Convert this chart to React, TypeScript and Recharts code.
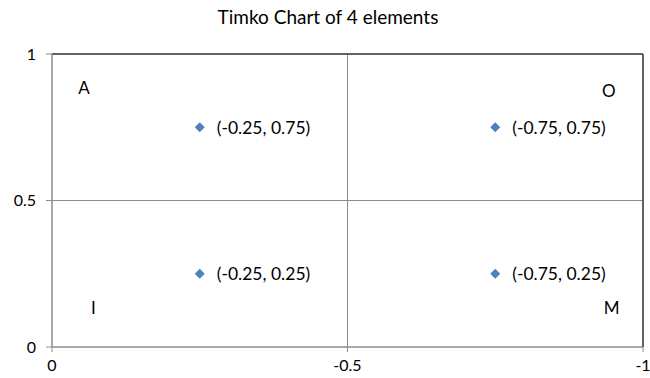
import React from 'react';
import { ScatterChart, Scatter, XAxis, YAxis, CartesianGrid, ReferenceLine, LabelList } from 'recharts';

const points = [
  { x: -0.25, y: 0.75 },
  { x: -0.75, y: 0.75 },
  { x: -0.25, y: 0.25 },
  { x: -0.75, y: 0.25 },
];

const cornerLabels = [
  { x: -0.054, y: 0.885, name: 'A' },
  { x: -0.942, y: 0.875, name: 'O' },
  { x: -0.07, y: 0.134, name: 'I' },
  { x: -0.947, y: 0.134, name: 'M' },
];

const xTicks = [0, -0.5, -1];
const yTicks = [0, 0.5, 1];

const FONT = 'Lato, "Open Sans", sans-serif';

const Diamond = (props: any) => {
  const { cx, cy } = props;
  const r = 5;
  return <path d={`M${cx},${cy - r}L${cx + r},${cy}L${cx},${cy + r}L${cx - r},${cy}Z`} fill="#4F81BD" />;
};

const Letter = (props: any) => {
  const { cx, cy, payload } = props;
  return (
    <text x={cx} y={cy} textAnchor="middle" dominantBaseline="central" fontSize={17} fontFamily={FONT} fill="#000">
      {payload.name}
    </text>
  );
};

const PointLabel = (props: any) => {
  const { x, y, width, height, index } = props;
  const p = points[index];
  const cx = x + width / 2;
  const cy = y + height / 2;
  return (
    <text x={cx + 17} y={cy} dominantBaseline="central" fontSize={17.5} fontFamily={FONT} fill="#000">
      {`(${p.x}, ${p.y})`}
    </text>
  );
};

export default function App() {
  return (
    <div style={{ background: '#fff', width: 650, height: 378, position: 'relative', overflow: 'hidden' }}>
      <style>{'html,body{margin:0;padding:0;}'}</style>
      <div style={{ position: 'absolute', left: 0, top: 5, width: 650, paddingLeft: 6, boxSizing: 'border-box', textAlign: 'center', fontFamily: FONT, fontSize: 19, color: '#000' }}>
        Timko Chart of 4 elements
      </div>
      <ScatterChart width={650} height={378} margin={{ top: 54, right: 7, bottom: 11, left: 22 }}>
        <CartesianGrid stroke="#8c8c8c" strokeWidth={1} horizontalValues={yTicks} verticalValues={xTicks} />
        <XAxis
          type="number"
          dataKey="x"
          domain={[-1, 0]}
          reversed
          ticks={xTicks}
          tickFormatter={(v: number) => String(v)}
          height={20}
          tickSize={5}
          tickMargin={8}
          stroke="#8c8c8c"
          tick={{ fill: '#000', fontSize: 16, fontFamily: FONT }}
          allowDataOverflow
        />
        <YAxis
          type="number"
          dataKey="y"
          domain={[0, 1]}
          ticks={yTicks}
          width={30}
          tickSize={6}
          tickMargin={10}
          stroke="#8c8c8c"
          tick={{ fill: '#000', fontSize: 16, fontFamily: FONT }}
          allowDataOverflow
        />
        <ReferenceLine y={1} stroke="#404040" strokeWidth={1.5} />
        <ReferenceLine x={-1} stroke="#404040" strokeWidth={1.5} />
        <Scatter data={cornerLabels} shape={Letter} isAnimationActive={false} />
        <Scatter data={points} shape={Diamond} isAnimationActive={false}>
          <LabelList dataKey="y" content={PointLabel} />
        </Scatter>
      </ScatterChart>
    </div>
  );
}
